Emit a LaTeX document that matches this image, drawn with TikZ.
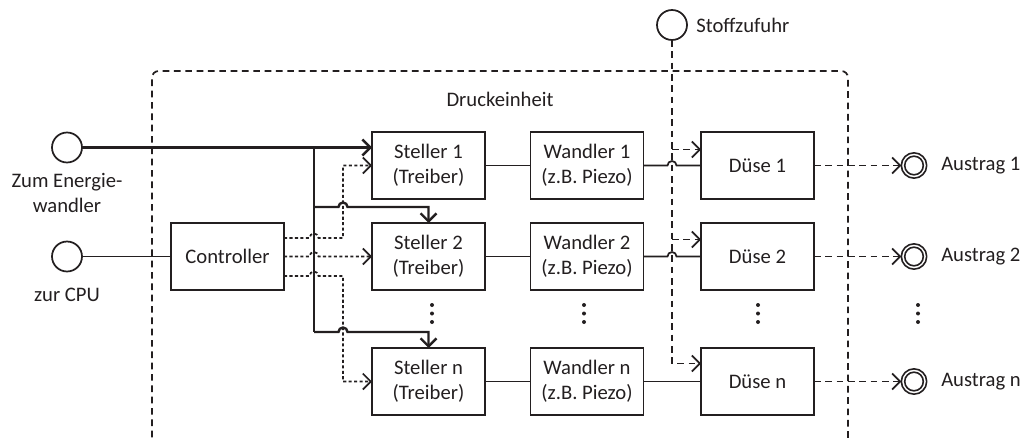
\documentclass[tikz,border=0pt]{standalone}
\usepackage{fontspec}
\setmainfont{Carlito}
\usetikzlibrary{arrows.meta,calc}
\definecolor{ink}{HTML}{231F20}
\tikzset{
  box/.style={draw=ink,line width=1.3pt,minimum width=84.75pt,minimum height=50.25pt,inner sep=0pt,outer sep=0pt,align=center,text=ink,font=\fontsize{15.5}{18.5}\selectfont},
  port/.style={draw=ink,line width=1.3pt,circle,minimum size=22.5pt,inner sep=0pt,outer sep=0pt},
  outport/.style={draw=ink,line width=1.2pt,circle,minimum size=19pt,inner sep=0pt,outer sep=0pt},
  lbl/.style={text=ink,font=\fontsize{15.5}{18.5}\selectfont,inner sep=0pt,align=center},
  tip/.style={-{Straight Barb[length=6pt,width=12pt]}},
  wire/.style={draw=ink,line width=1.3pt},
  energy/.style={draw=ink,line width=1.8pt},
  ctl/.style={draw=ink,line width=1.3pt,dash pattern=on 2.3pt off 1.8pt},
  flow/.style={draw=ink,line width=1.3pt,dash pattern=on 5pt off 3.5pt},
  frame/.style={draw=ink,line width=1.3pt,dash pattern=on 5pt off 3.5pt,rounded corners=5pt}
}
\begin{document}
\begin{tikzpicture}[x=0.75pt,y=-0.75pt]
\useasboundingbox (0,0) rectangle (1027,439);
% frame
\draw[frame] (152,460) -- (152,71) -- (848,71) -- (848,460);
\node[lbl] (druck) at (500,99) {Druckeinheit};
% boxes
\node[box] (ctrl) at (227.5,256.5) {Controller};
\node[box] (s1) at (428.5,165.5) {Steller 1\\(Treiber)};
\node[box] (s2) at (428.5,256.5) {Steller 2\\(Treiber)};
\node[box] (sn) at (428.5,381.5) {Steller n\\(Treiber)};
\node[box] (w1) at (587,165.5) {Wandler 1\\(z.B. Piezo)};
\node[box] (w2) at (587,256.5) {Wandler 2\\(z.B. Piezo)};
\node[box] (wn) at (587,381.5) {Wandler n\\(z.B. Piezo)};
\node[box] (d1) at (757.5,165.5) {Düse 1};
\node[box] (d2) at (757.5,256.5) {Düse 2};
\node[box] (dn) at (757.5,381.5) {Düse n};
% ports
\node[port] (e) at (67,147.5) {};
\node[lbl] (elbl) at (67,193) {Zum Energie-\\wandler};
\node[port] (cpu) at (67,256.5) {};
\node[lbl] (cpulbl) at (67,295) {zur CPU};
\node[port] (stoff) at (672,25) {};
\node[lbl,anchor=west] (stofflbl) at (696,25) {Stoffzufuhr};
\node[outport] (a1) at (914,165.5) {};
\node[outport] (a2) at (914,256.5) {};
\node[outport] (an) at (914,381.5) {};
\foreach \n in {a1,a2,an}{\draw[ink,line width=1.2pt] (\n.center) circle[radius=9.3];}
\node[lbl,anchor=west] (a1lbl) at (941,165.5) {Austrag 1};
\node[lbl,anchor=west] (a2lbl) at (941,256.5) {Austrag 2};
\node[lbl,anchor=west] (anlbl) at (941,381.5) {Austrag n};
% vertical dots
\foreach \x in {432,584,758,918}{
  \foreach \y in {305,313.5,322}{\fill[ink] (\x,\y) circle[radius=2];}
}
% cpu to controller
\draw[wire] (cpu.east) -- (ctrl.west);
% energy bus
\coordinate (bt) at (314,147.5);
\coordinate (b2) at (314,207);
\coordinate (bb) at (314,332);
\draw[energy,tip] (e.east) -- ($(s1.west)+(0,-18)$);
\draw[energy] (bt) -- (bb);
\draw[energy,tip] (b2) -- (338.5,207) arc[start angle=180,end angle=360,radius=4.5] -- (s2.north |- b2) -- (s2.north);
\draw[energy,tip] (bb) -- (338.5,332) arc[start angle=180,end angle=360,radius=4.5] -- (sn.north |- bb) -- (sn.north);
% controller signals
\draw[ctl,tip] ($(ctrl.east)+(0,-18.5)$) -- (309.5,238) arc[start angle=180,end angle=360,radius=4.5] -- (343,238) -- (343,165.5) -- (s1.west);
\draw[ctl,tip] (ctrl.east) -- (309.5,256.5) arc[start angle=180,end angle=360,radius=4.5] -- (s2.west);
\draw[ctl,tip] ($(ctrl.east)+(0,19.5)$) -- (309.5,276) arc[start angle=180,end angle=360,radius=4.5] -- (343,276) -- (343,381.5) -- (sn.west);
% steller to wandler
\draw[wire] (s1.east) -- (w1.west);
\draw[wire] (s2.east) -- (w2.west);
\draw[wire] (sn.east) -- (wn.west);
% wandler to duese (with hops)
\draw[wire] (w1.east) -- (667.5,165.5) arc[start angle=180,end angle=360,radius=4.5] -- (d1.west);
\draw[wire] (w2.east) -- (667.5,256.5) arc[start angle=180,end angle=360,radius=4.5] -- (d2.west);
\draw[wire] (wn.east) -- (dn.west);
% material supply
\coordinate (d1in) at ($(d1.west)+(0,-16)$);
\coordinate (d2in) at ($(d2.west)+(0,-17)$);
\coordinate (dnin) at ($(dn.west)+(0,-18)$);
\draw[flow,tip] (stoff.south) |- (dnin);
\draw[flow,tip] (stoff.south |- d1in) -- (d1in);
\draw[flow,tip] (stoff.south |- d2in) -- (d2in);
% outputs
\draw[flow,tip] (d1.east) -- (a1.west);
\draw[flow,tip] (d2.east) -- (a2.west);
\draw[flow,tip] (dn.east) -- (an.west);
\end{tikzpicture}
\end{document}
